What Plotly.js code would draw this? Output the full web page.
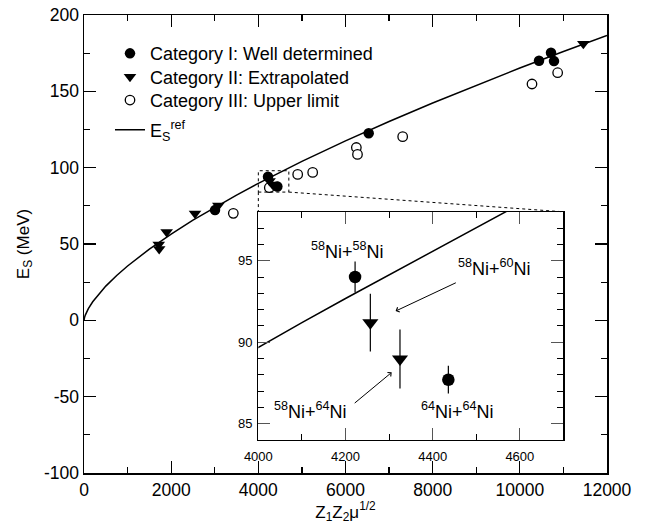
<!DOCTYPE html>
<html>
<head>
<meta charset="utf-8">
<script src="https://cdn.plot.ly/plotly-3.0.1.min.js"></script>
<style>html,body{margin:0;padding:0;background:#fff;}#chart{width:646px;height:525px;}</style>
</head>
<body>
<div id="chart"></div>
<script>
// ---- data ----
// Category I (well determined), non-Ni systems
const catIZeta = [3006, 6532, 10440, 10715, 10784];
const catIEs   = [72.2, 122.5, 170.0, 175.3, 169.8];
// Category II (extrapolated), non-Ni systems
const catIIZeta = [1715, 1725, 1897, 2547, 3082, 11457];
const catIIEs   = [49.7, 46.8, 57.9, 69.9, 75.3, 181.1];
// Category III (upper limit)
const catIIIZeta = [3426, 4252, 4903, 5247, 6249, 6275, 7312, 10279, 10868];
const catIIIEs   = [70.1, 86.9, 95.6, 96.9, 113.2, 108.7, 120.3, 154.8, 162.2];
// Ni + Ni systems (shown in both panels, with error bars in the inset)
const niSystems  = ['58Ni+58Ni', '58Ni+60Ni', '58Ni+64Ni', '64Ni+64Ni'];
const niLabels   = ['<sup>58</sup>Ni+<sup>58</sup>Ni', '<sup>58</sup>Ni+<sup>60</sup>Ni', '<sup>58</sup>Ni+<sup>64</sup>Ni', '<sup>64</sup>Ni+<sup>64</sup>Ni'];
const niZeta     = [4222, 4257, 4325, 4436];
const niEs       = [94.0, 91.2, 88.97, 87.7];
const niErr      = [0.95, 1.77, 1.81, 0.85];
const niCategory = ['I', 'II', 'II', 'I'];
// Reference curve E_S^ref
const refZeta = [0, 2, 10, 30, 60, 100, 200, 350, 500, 750, 1000, 1500, 2000, 2500, 3000, 3500, 4000, 4100, 4200, 4300, 4400, 4500, 4600, 4700, 5000, 6000, 7000, 8000, 9000, 10000, 11000, 12000];
const refEs   = [0, 0.565, 1.653, 3.437, 5.457, 7.670, 12.175, 17.68, 22.43, 29.39, 35.60, 46.65, 56.51, 65.58, 74.05, 82.06, 89.71, 91.20, 92.68, 94.14, 95.60, 97.04, 98.47, 99.89, 104.10, 117.55, 130.26, 142.40, 154.03, 165.24, 176.07, 186.60];
// axis ranges / tick labels
const mainXRange = [0, 12000], mainYRange = [-100, 200];
const zoomXRange = [4000, 4700], zoomYRange = [84, 98];
const mainXTickVals = [0, 2000, 4000, 6000, 8000, 10000, 12000];
const mainXTickText = ['0', '2000', '4000', '6000', '8000', '10000', '12000'];
const mainYTickVals = [-100, -50, 0, 50, 100, 150, 200];
const mainYTickText = ['-100', '-50', '0', '50', '100', '150', '200'];
const zoomXTickVals = [4000, 4200, 4400, 4600];
const zoomXTickText = ['4000', '4200', '4400', '4600'];
const zoomYTickVals = [85, 90, 95];
const zoomYTickText = ['85', '90', '95'];

// ---- build ----
const FONT = 'Liberation Sans, Arial, Helvetica, sans-serif';
const pick = (arr, cat) => arr.filter((_, i) => niCategory[i] === cat);

const mainI_x = catIZeta.concat(pick(niZeta, 'I'));
const mainI_y = catIEs.concat(pick(niEs, 'I'));
const mainII_x = catIIZeta.concat(pick(niZeta, 'II'));
const mainII_y = catIIEs.concat(pick(niEs, 'II'));

const insetXDom = [zoomXRange[0] / mainXRange[1], 11000 / mainXRange[1]];
const insetYDom = [0.072, 0.5703];
const insetTopMainY = mainYRange[0] + insetYDom[1] * (mainYRange[1] - mainYRange[0]);
const insetRightMainX = mainXRange[0] + insetXDom[1] * (mainXRange[1] - mainXRange[0]);

const traces = [
  {x: refZeta, y: refEs, mode: 'lines', name: 'E<sub>S</sub><sup>ref</sup>', legendrank: 4,
   line: {color: 'black', width: 1.5}, xaxis: 'x', yaxis: 'y', hoverinfo: 'skip'},
  {x: catIIIZeta, y: catIIIEs, mode: 'markers', name: 'Category III: Upper limit', legendrank: 3,
   marker: {symbol: 'circle', size: 9.5, color: 'white', line: {color: 'black', width: 1.3}}, xaxis: 'x', yaxis: 'y'},
  {x: mainII_x, y: mainII_y, mode: 'markers', name: 'Category II: Extrapolated', legendrank: 2,
   marker: {symbol: 'triangle-down', size: 11, color: 'black'}, xaxis: 'x', yaxis: 'y'},
  {x: mainI_x, y: mainI_y, mode: 'markers', name: 'Category I: Well determined', legendrank: 1,
   marker: {symbol: 'circle', size: 10.5, color: 'black'}, xaxis: 'x', yaxis: 'y'},
  // inset
  {x: refZeta, y: refEs, mode: 'lines', showlegend: false, line: {color: 'black', width: 1.5}, xaxis: 'x2', yaxis: 'y2'},
  {x: pick(niZeta, 'II'), y: pick(niEs, 'II'), mode: 'markers', showlegend: false,
   error_y: {type: 'data', array: pick(niErr, 'II'), width: 0, thickness: 1.2, color: 'black'},
   marker: {symbol: 'triangle-down', size: 14, color: 'black'}, xaxis: 'x2', yaxis: 'y2'},
  {x: pick(niZeta, 'I'), y: pick(niEs, 'I'), mode: 'markers', showlegend: false,
   error_y: {type: 'data', array: pick(niErr, 'I'), width: 0, thickness: 1.2, color: 'black'},
   marker: {symbol: 'circle', size: 12.5, color: 'black'}, xaxis: 'x2', yaxis: 'y2'}
];

const axisCommon = {
  showline: true, linecolor: 'black', mirror: 'ticks', ticks: 'inside', tickcolor: 'black',
  showgrid: false, zeroline: false, color: 'black', tickmode: 'array'
};

const labelPos = [[4205, 95.65], [4543, 94.6], [4120, 85.81], [4456, 85.81]];
const annotations = niLabels.map((t, i) => ({
  text: t, x: labelPos[i][0], y: labelPos[i][1], xref: 'x2', yref: 'y2', showarrow: false,
  font: {family: FONT, size: 18, color: 'black'}
}));
annotations.push({text: '', x: 4315, y: 91.91, ax: 4456.6, ay: 93.69, xref: 'x2', yref: 'y2', axref: 'x2', ayref: 'y2',
  showarrow: true, arrowhead: 4, arrowsize: 1, arrowwidth: 1, arrowcolor: 'black'});
annotations.push({text: '', x: 4306, y: 88.15, ax: 4217.7, ay: 86.19, xref: 'x2', yref: 'y2', axref: 'x2', ayref: 'y2',
  showarrow: true, arrowhead: 4, arrowsize: 1, arrowwidth: 1, arrowcolor: 'black'});

const dotted = {color: 'black', width: 1, dash: 'dot'};
const shapes = [
  {type: 'rect', xref: 'x', yref: 'y', x0: zoomXRange[0], x1: zoomXRange[1], y0: zoomYRange[0], y1: zoomYRange[1], line: dotted},
  {type: 'line', xref: 'x', yref: 'y', x0: zoomXRange[0], y0: zoomYRange[0], x1: zoomXRange[0], y1: insetTopMainY, line: dotted},
  {type: 'line', xref: 'x', yref: 'y', x0: zoomXRange[1], y0: zoomYRange[0], x1: insetRightMainX, y1: insetTopMainY, line: dotted}
];

const layout = {
  width: 646, height: 525,
  margin: {l: 84, r: 39, t: 15, b: 52},
  paper_bgcolor: 'white', plot_bgcolor: 'white',
  font: {family: FONT, color: 'black'},
  showlegend: true,
  legend: {x: 0.0497, y: 0.956, xanchor: 'left', yanchor: 'top', bgcolor: 'rgba(0,0,0,0)',
           font: {family: FONT, size: 18, color: 'black'}, tracegroupgap: 0, itemwidth: 30},
  xaxis: Object.assign({}, axisCommon, {
    domain: [0, 1], anchor: 'y', range: mainXRange, tickvals: mainXTickVals, ticktext: mainXTickText,
    ticklen: 12, tickwidth: 1.2, linewidth: 1.5,
    minor: {dtick: 1000, tick0: 0, ticks: 'inside', ticklen: 6, tickwidth: 1.2, tickcolor: 'black'},
    tickfont: {family: FONT, size: 17.5},
    title: {text: 'Z<sub>1</sub>Z<sub>2</sub>μ<sup>1/2</sup>', font: {family: FONT, size: 17}, standoff: 6}
  }),
  yaxis: Object.assign({}, axisCommon, {
    domain: [0, 1], anchor: 'x', range: mainYRange, tickvals: mainYTickVals, ticktext: mainYTickText,
    ticklen: 12, tickwidth: 1.2, linewidth: 1.5,
    minor: {dtick: 25, tick0: 0, ticks: 'inside', ticklen: 6, tickwidth: 1.2, tickcolor: 'black'},
    tickfont: {family: FONT, size: 17.5},
    title: {text: 'E<sub>S</sub> (MeV)', font: {family: FONT, size: 17}, standoff: 10}
  }),
  xaxis2: Object.assign({}, axisCommon, {
    domain: insetXDom, anchor: 'y2', range: zoomXRange, tickvals: zoomXTickVals, ticktext: zoomXTickText,
    ticklen: 12, tickwidth: 1, linewidth: 1.3, tickcolor: '#555', ticklabelstandoff: 4,
    minor: {dtick: 100, tick0: 4000, ticks: 'inside', ticklen: 6, tickwidth: 1, tickcolor: 'black'},
    tickfont: {family: FONT, size: 13}
  }),
  yaxis2: Object.assign({}, axisCommon, {
    domain: insetYDom, anchor: 'x2', range: zoomYRange, tickvals: zoomYTickVals, ticktext: zoomYTickText,
    ticklen: 12, tickwidth: 1, linewidth: 1.3, tickcolor: '#555', ticklabelstandoff: 2,
    minor: {dtick: 1, tick0: 84, ticks: 'inside', ticklen: 6, tickwidth: 1, tickcolor: 'black'},
    tickfont: {family: FONT, size: 13}
  }),
  annotations: annotations,
  shapes: shapes
};

const gd = document.getElementById('chart');
Plotly.newPlot(gd, traces, layout, {staticPlot: true, displayModeBar: false}).then(() => {
  // tighten legend row spacing to match the reference
  const rowOffsets = [0, 23.4, 46.7, 76.5];
  const items = gd.querySelectorAll('g.legend g.traces');
  let y0 = null;
  items.forEach((g, i) => {
    const m = /translate\(\s*([-\d.]+)[ ,]+([-\d.]+)\s*\)/.exec(g.getAttribute('transform') || '');
    if (!m) return;
    const x = parseFloat(m[1]), y = parseFloat(m[2]);
    if (y0 === null) y0 = y;
    if (i < rowOffsets.length) g.setAttribute('transform', 'translate(' + x + ',' + (y0 + rowOffsets[i]) + ')');
  });
});
</script>
</body>
</html>
